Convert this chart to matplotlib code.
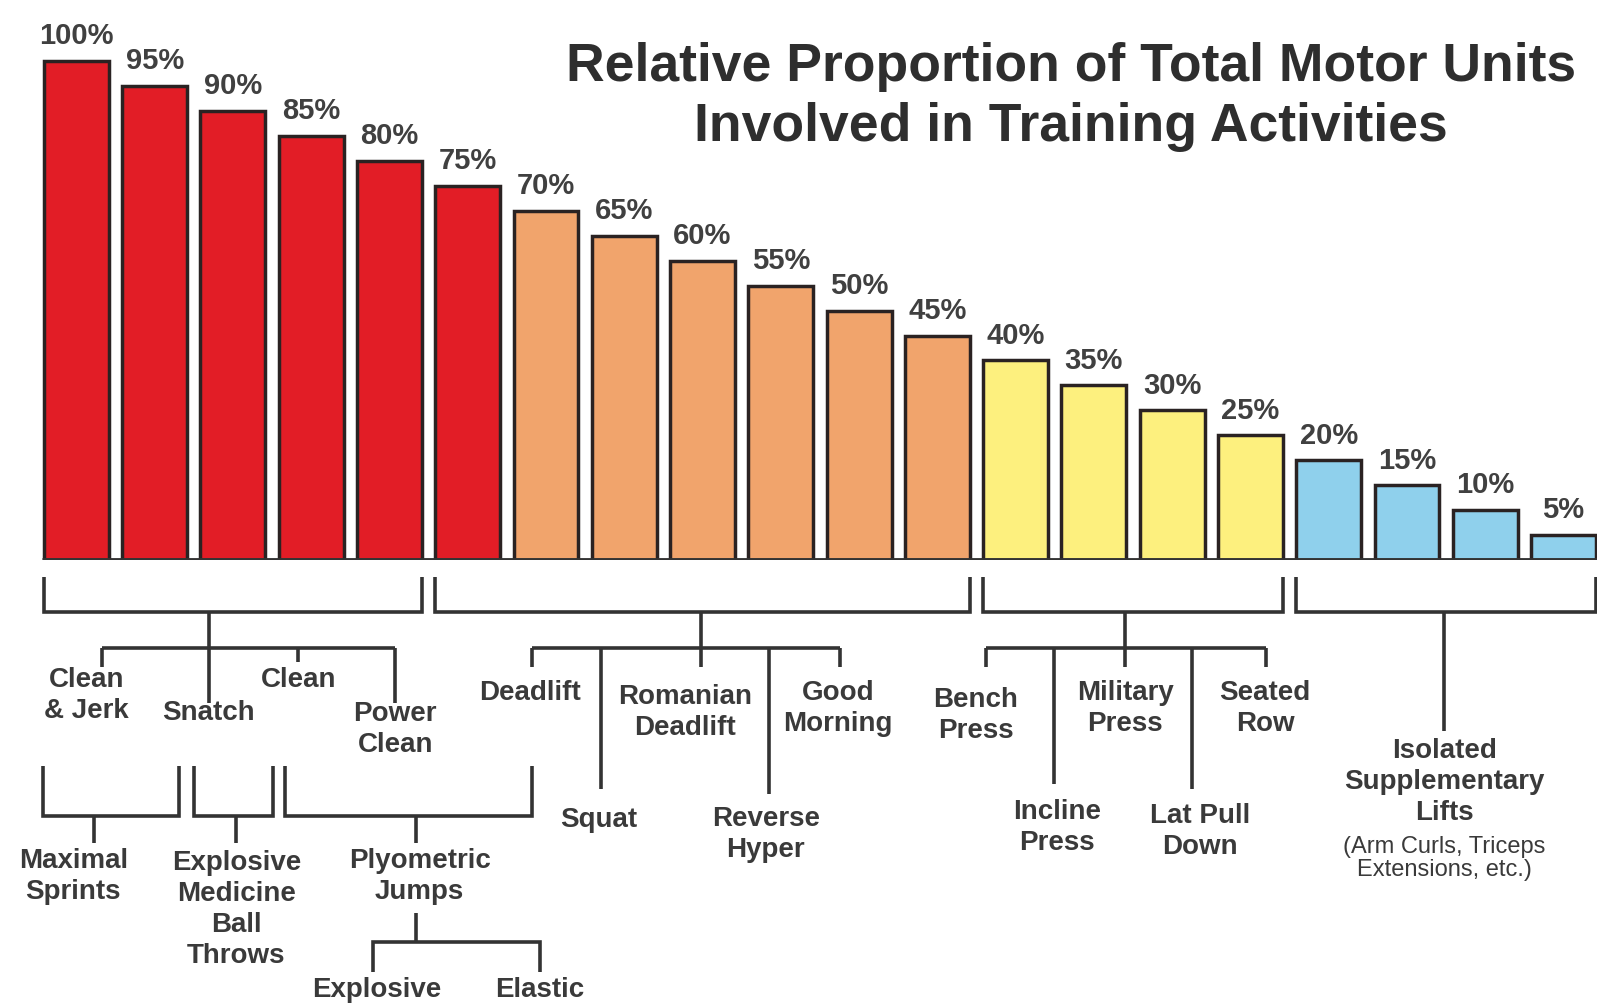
import matplotlib
matplotlib.use("Agg")
import matplotlib.pyplot as plt

# data
PERCENTS = [100, 95, 90, 85, 80, 75, 70, 65, 60, 55, 50, 45, 40, 35, 30, 25, 20, 15, 10, 5]
BAR_COLORS = (["#e21d26"] * 6 + ["#f1a46c"] * 6 + ["#fdf07e"] * 4 + ["#8fd0ec"] * 4)
TITLE_LINES = ["Relative Proportion of Total Motor Units", "Involved in Training Activities"]

# bar groups under the top brackets (first bar, last bar, stem position in px)
GROUPS = [(0, 4, 205), (5, 11, 688), (12, 15, 1105), (16, 19, 1418)]
STEM_ENDS = [690, 655, 655, 718]

# tree labels: text, x (px), y (px)
LABELS = [
    ("Clean\n& Jerk", 85, 683),
    ("Snatch", 205, 700),
    ("Clean", 293, 668),
    ("Power\nClean", 388, 716),
    ("Maximal\nSprints", 72, 861),
    ("Explosive\nMedicine\nBall\nThrows", 232, 893),
    ("Plyometric\nJumps", 412, 861),
    ("Explosive", 370, 972),
    ("Elastic", 530, 972),
    ("Deadlift", 520, 681),
    ("Squat", 588, 805),
    ("Romanian\nDeadlift", 673, 700),
    ("Reverse\nHyper", 752, 820),
    ("Good\nMorning", 823, 696),
    ("Bench\nPress", 958, 703),
    ("Incline\nPress", 1038, 813),
    ("Military\nPress", 1105, 696),
    ("Lat Pull\nDown", 1178, 817),
    ("Seated\nRow", 1242, 696),
    ("Isolated\nSupplementary\nLifts", 1418, 768),
]
NOTE = ("(Arm Curls, Triceps\nExtensions, etc.)", 1418, 843)

# connector polylines (px)
LINKS = [
    [(100, 636), (388, 636)],
    [(100, 636), (100, 655)],
    [(293, 636), (293, 650)],
    [(388, 636), (388, 690)],
    [(42, 752), (42, 801), (176, 801), (176, 752)],
    [(92, 801), (92, 828)],
    [(190, 752), (190, 801), (268, 801), (268, 752)],
    [(232, 801), (232, 828)],
    [(280, 752), (280, 801), (522, 801), (522, 752)],
    [(408, 801), (408, 828)],
    [(408, 897), (408, 925)],
    [(366, 955), (366, 925), (530, 925), (530, 955)],
    [(522, 636), (825, 636)],
    [(522, 636), (522, 655)],
    [(590, 636), (590, 775)],
    [(755, 636), (755, 780)],
    [(825, 636), (825, 655)],
    [(968, 636), (1243, 636)],
    [(968, 636), (968, 655)],
    [(1035, 636), (1035, 770)],
    [(1170, 636), (1170, 775)],
    [(1243, 636), (1243, 655)],
]

PX0, PITCH = 75.0, 76.85   # bar 0 center and bar pitch in px
BAR_W = 0.83
INK = "#333333"
TEXT = "#3a3a3a"
FONT = ["Liberation Sans", "DejaVu Sans"]


def bx(px):
    return (px - PX0) / PITCH


def main():
    plt.rcParams["font.family"] = FONT
    fig = plt.figure(figsize=(15.97, 10.06), dpi=100)
    xlim = (bx(0), bx(1568))

    # bars
    ax = fig.add_axes([0, 0.4433, 1, 0.5567])
    x = list(range(len(PERCENTS)))
    ax.bar(x, PERCENTS, width=BAR_W, color=BAR_COLORS, edgecolor="#2a2222", linewidth=2.5, zorder=2)
    for xi, p in zip(x, PERCENTS):
        ax.annotate(f"{p}%", (xi, p), xytext=(0, 12), textcoords="offset points",
                    ha="center", va="baseline", fontsize=21, fontweight="bold", color="#404040")
    ax.plot([-BAR_W / 2 - 0.03, xlim[1]], [0, 0], color=INK, lw=3.5, solid_capstyle="butt", zorder=3)
    ax.set_xlim(*xlim)
    ax.set_ylim(0, 112.24)
    ax.axis("off")

    for i, line in enumerate(TITLE_LINES):
        fig.text(1071 / 1597, 1 - (81 + 60 * i) / 1006, line, ha="center", va="baseline",
                 fontsize=38.5, fontweight="bold", color="#2e2e2e")

    # tree diagram
    dax = fig.add_axes([0, 0, 1, 0.4433])
    dax.set_xlim(*xlim)
    dax.set_ylim(988, 550)
    dax.axis("off")
    style = dict(color=INK, lw=2.6, solid_joinstyle="miter", solid_capstyle="butt")

    for (a, b, stem), end in zip(GROUPS, STEM_ENDS):
        left, right = a - BAR_W / 2, b + BAR_W / 2
        dax.plot([left, left, right, right], [567, 601, 601, 567], **style)
        dax.plot([bx(stem), bx(stem)], [601, end], **style)

    for pts in LINKS:
        dax.plot([bx(p[0]) for p in pts], [p[1] for p in pts], **style)

    for text, px, py in LABELS:
        dax.text(bx(px), py, text, ha="center", va="center", multialignment="center",
                 fontsize=20, fontweight="bold", color=TEXT, linespacing=1.25)
    text, px, py = NOTE
    dax.text(bx(px), py, text, ha="center", va="center", multialignment="center",
             fontsize=17, color=TEXT, linespacing=1.05)

    fig.savefig("out.png", dpi=100)


if __name__ == "__main__":
    main()
